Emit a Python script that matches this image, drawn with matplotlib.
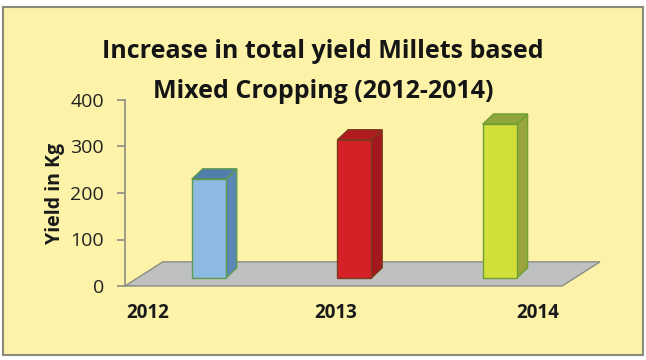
import matplotlib.pyplot as plt
from matplotlib.patches import Polygon
import numpy as np

years  = ['2012', '2013', '2014']
yields = [230, 314, 348]
yticks = [0, 100, 200, 300, 400]

front = ['#8EB9E3', '#D52027', '#D2DE3A']
side  = ['#5A88B5', '#A3191D', '#9AA53E']
top   = ['#4F7FAA', '#B01C20', '#8FA63C']
edge  = ['#5E9A4E', '#7A3A1C', '#6E9E34']

BG = '#FCF3A8'
fig = plt.figure(figsize=(6.46, 3.6), dpi=100)
fig.patch.set_facecolor('white')

# marco de fondo
bg = fig.add_axes([3 / 646, 5 / 360, 640 / 646, 348 / 360], zorder=-5)
bg.set_facecolor(BG)
bg.set_xticks([])
bg.set_yticks([])
for s in bg.spines.values():
    s.set_color('#8A8A7A')
    s.set_linewidth(1.5)

ax = fig.add_axes([125 / 646, 74 / 360, 475 / 646, 186 / 360])
ax.set_facecolor('none')
ax.set_xlim(-0.577, 2.69)
ax.set_ylim(0, 400)

# suelo 3D
base = 17
fdx, fdy = 0.26, 52
x0, x1 = -0.577, 2.43
ax.add_patch(Polygon([[x0, 0], [x1, 0], [x1 + fdx, fdy], [x0 + fdx, fdy]],
                     closed=True, facecolor='#BFC1C0', edgecolor='#8C8C86',
                     lw=1.0, zorder=1, clip_on=False))

# barras 3D
w = 0.234
bdx, bdy = 0.075, 22
x = np.arange(len(years))
for i, (xi, v) in enumerate(zip(x, yields)):
    l, r = xi - w / 2, xi + w / 2
    ax.add_patch(Polygon([[r, base], [r + bdx, base + bdy], [r + bdx, v + bdy], [r, v]],
                         facecolor=side[i], edgecolor=edge[i], lw=1.0, zorder=3))
    ax.add_patch(Polygon([[l, v], [r, v], [r + bdx, v + bdy], [l + bdx, v + bdy]],
                         facecolor=top[i], edgecolor=edge[i], lw=1.0, zorder=3))
    ax.bar(xi, v - base, bottom=base, width=w, color=front[i],
           edgecolor=edge[i], lw=1.0, zorder=4)

for s in ['top', 'right', 'bottom']:
    ax.spines[s].set_visible(False)
ax.spines['left'].set_color('#8C8C86')
ax.spines['left'].set_linewidth(1.2)
ax.set_yticks(yticks)
ax.tick_params(axis='y', length=6, width=1.2, color='#8C8C86', pad=9,
               labelsize=14, labelcolor='#222222')
ax.set_xticks([-0.42, 0.87, 2.26])
ax.set_xticklabels(years, fontsize=13.5, fontweight='bold', color='#1A1A1A')
ax.tick_params(axis='x', length=0, pad=12)
for lab in ax.get_yticklabels() + ax.get_xticklabels():
    lab.set_family('Open Sans')
ax.axhline(0, xmin=0, xmax=0.02, color='#8C8C86', lw=1.2)

ax.set_ylabel('Yield in Kg', fontsize=14, fontweight='bold', family='Open Sans',
              labelpad=4, color='#1A1A1A')

fig.text(0.5, 1 - 52 / 360, 'Increase in total yield Millets based',
         ha='center', va='center', fontsize=18, fontweight='bold',
         family='Open Sans', color='#151515')
fig.text(0.5, 1 - 92 / 360, 'Mixed Cropping (2012-2014)',
         ha='center', va='center', fontsize=18, fontweight='bold',
         family='Open Sans', color='#151515')

fig.savefig('out.png', dpi=100, facecolor=fig.get_facecolor())
